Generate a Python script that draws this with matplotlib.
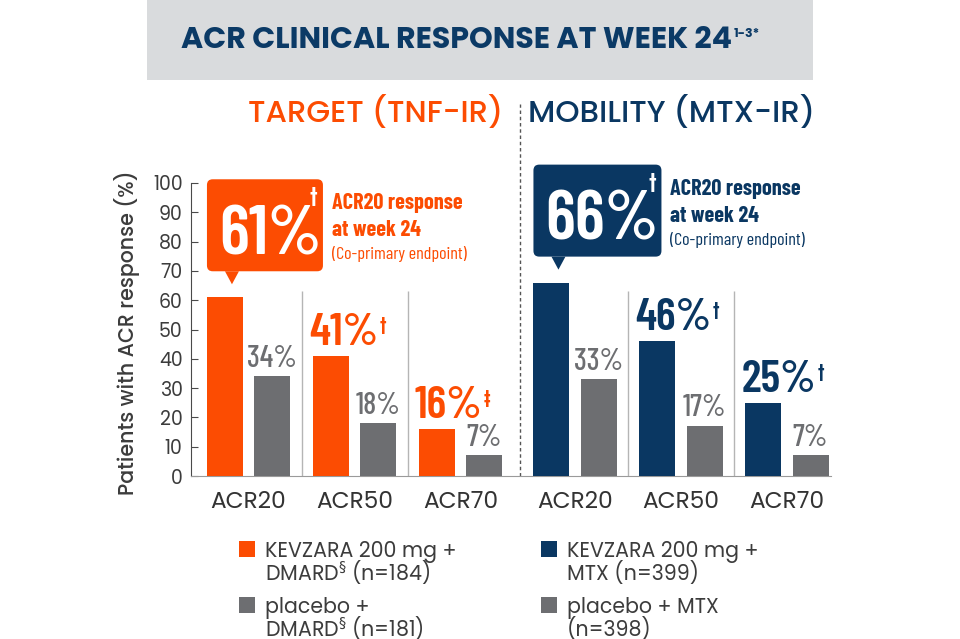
import numpy as np
import matplotlib
matplotlib.use('Agg')
import matplotlib.pyplot as plt
from matplotlib import font_manager as fm
from matplotlib.patches import FancyBboxPatch, Polygon, Rectangle

# data
categories = ['ACR20', 'ACR50', 'ACR70']
tnf_kevzara = [61, 41, 16]
tnf_placebo = [34, 18, 7]
mtx_kevzara = [66, 46, 25]
mtx_placebo = [33, 17, 7]
tnf_marks = ['†', '†', '‡']
mtx_marks = ['†', '†', '†']
yticks = list(range(0, 101, 10))

ORANGE = '#fc4c02'
NAVY = '#0a3762'
GRAY = '#6d6e71'
TXT = '#3c3c3c'

W, H = 960, 639

names = {f.name for f in fm.fontManager.ttflist}
NARROW = 'Barlow Condensed' if 'Barlow Condensed' in names else 'DejaVu Sans'
BASE = 'Poppins' if 'Poppins' in names else 'DejaVu Sans'

plt.rcParams['font.family'] = [BASE, 'DejaVu Sans']
plt.rcParams['mathtext.fontset'] = 'dejavusans'

fig = plt.figure(figsize=(9.6, 6.39), dpi=100)
renderer = fig.canvas.get_renderer()


def fx(px):
    return px / W


def fy(py):
    return 1 - py / H


def fit(t, target, vertical=False):
    # scale a text's font size so that it spans the width seen in the reference
    bb = t.get_window_extent(renderer)
    size = bb.height if vertical else bb.width
    t.set_fontsize(t.get_fontsize() * target / size)
    return t.get_fontsize()


ax = fig.add_axes([fx(191), fy(476), fx(831) - fx(191), fy(183) - fy(476)])

xs_tnf = np.arange(3)
xs_mtx = np.arange(3) + 3.08
off = 0.222
bw = 0.34

ax.bar(xs_tnf - off, tnf_kevzara, bw, color=ORANGE, zorder=3)
ax.bar(xs_tnf + off, tnf_placebo, bw, color=GRAY, zorder=3)
ax.bar(xs_mtx - off, mtx_kevzara, bw, color=NAVY, zorder=3)
ax.bar(xs_mtx + off, mtx_placebo, bw, color=GRAY, zorder=3)

ax.set_xlim(-0.5425, 5.495)
ax.set_ylim(0, 100)
ax.set_yticks(yticks)
ax.set_xticks(np.concatenate([xs_tnf, xs_mtx]), categories * 2)

for s in ['top', 'right']:
    ax.spines[s].set_visible(False)
ax.spines['left'].set_color('#4a4a4a')
ax.spines['bottom'].set_color('#9a9a9a')
ax.tick_params(axis='y', direction='in', length=5, color='#4a4a4a',
               labelsize=12, labelcolor=TXT, pad=6)
ax.tick_params(axis='x', length=0, labelsize=16, labelcolor='#333333', pad=11)
ylab = ax.set_ylabel('Patients with ACR response (%)', fontsize=13.5, color=TXT,
                     fontweight='medium')
ax.yaxis.set_label_coords(-0.08, 0.49)

fig.canvas.draw()
ax.tick_params(axis='y', labelsize=fit(ax.get_yticklabels()[-1], 30))
ax.tick_params(axis='x', labelsize=fit(ax.get_xticklabels()[0], 76))
fit(ylab, 325, vertical=True)

# thin separators between groups, dashed divider between the two trials
mids = [0.5, 1.5, 3.58, 4.58]
ax.vlines(mids, 0, 63, color='#b5b5b5', lw=1, zorder=1)
xd = 2.56
ax.plot([xd, xd], [0, 127], ls=(0, (2.5, 2)), color='#555555', lw=1, clip_on=False)


def value_labels(xs, active, placebo, marks, color):
    for i in range(1, 3):
        t = ax.annotate(f'{active[i]}%', xy=(xs[i] - off - bw / 2, active[i]),
                        xytext=(-3, 8), textcoords='offset points',
                        ha='left', va='baseline', fontsize=33, fontweight='semibold',
                        family=NARROW, color=color)
        ax.annotate(marks[i], xy=(1, 1), xycoords=t, xytext=(1, -3),
                    textcoords='offset points', ha='left', va='top',
                    fontsize=13, fontweight='bold', family=NARROW, color=color)
    for i in range(3):
        ax.annotate(f'{placebo[i]}%', xy=(xs[i] + off, placebo[i]),
                    xytext=(0, 7), textcoords='offset points',
                    ha='center', va='baseline', fontsize=22, fontweight='medium',
                    family=NARROW, color=GRAY)


value_labels(xs_tnf, tnf_kevzara, tnf_placebo, tnf_marks, ORANGE)
value_labels(xs_mtx, mtx_kevzara, mtx_placebo, mtx_marks, NAVY)


def callout(x, value, mark, color, box_w):
    # box above the first bar, anchored on the bar's top-left corner
    px, py = ax.transData.transform((x - off - bw / 2, value))
    bottom = py + 26
    top = bottom + 92
    box = FancyBboxPatch((px / W, bottom / H), box_w / W, 92 / H,
                         boxstyle='round,pad=0,rounding_size=0.006',
                         mutation_aspect=W / H, fc=color, ec='none',
                         transform=fig.transFigure)
    fig.add_artist(box)
    tip = Polygon([((px + 18) / W, bottom / H), ((px + 32) / W, bottom / H),
                   ((px + 25) / W, (bottom - 13) / H)], closed=True,
                  fc=color, ec='none', transform=fig.transFigure)
    fig.add_artist(tip)
    fig.text((px + 12) / W, (top - 75) / H, f'{value}%', color='white',
             fontsize=50, fontweight='semibold', family=NARROW, va='baseline')
    fig.text((px + box_w - 13) / W, (top - 8) / H, mark, color='white',
             fontsize=15, fontweight='bold', family=NARROW, va='top')
    tx = (px + box_w + 9) / W
    fig.text(tx, (top - 30) / H, 'ACR20 response', color=color, fontsize=16,
             fontweight='bold', family=NARROW, va='baseline')
    fig.text(tx, (top - 57) / H, 'at week 24', color=color, fontsize=16,
             fontweight='bold', family=NARROW, va='baseline')
    fig.text(tx, (top - 80) / H, '(Co-primary endpoint)', color=color,
             fontsize=13, family=NARROW, va='baseline')


callout(xs_tnf[0], tnf_kevzara[0], tnf_marks[0], ORANGE, 116)
callout(xs_mtx[0], mtx_kevzara[0], mtx_marks[0], NAVY, 128)

# title banner
fig.add_artist(Rectangle((fx(147), fy(80)), (813 - 147) / W, 80 / H,
                         fc='#d9dbdd', ec='none', transform=fig.transFigure))
title = fig.text(fx(181), fy(41), 'ACR CLINICAL RESPONSE AT WEEK 24', color='#0b3a66',
                 fontsize=19, fontweight='bold', va='center')
fit(title, 552)
tb = title.get_window_extent(renderer)
fig.text((tb.x1 + 2) / W, fy(28), '1-3*', color='#0b3a66', fontsize=9,
         fontweight='bold', ha='left', va='top')

# trial headings
h1 = fig.text(fx(503), fy(113), 'TARGET (TNF-IR)', color=ORANGE, fontsize=20,
              fontweight='medium', ha='right', va='center')
h2 = fig.text(fx(528), fy(113), 'MOBILITY (MTX-IR)', color=NAVY, fontsize=20,
              fontweight='medium', ha='left', va='center')
fit(h1, 256)
fit(h2, 287)

# legend
legend_rows = [
    (239, 557, ORANGE, ['KEVZARA 200 mg +', r'DMARD$^{\S}$ (n=184)']),
    (239, 613, GRAY, ['placebo +', r'DMARD$^{\S}$ (n=181)']),
    (541, 557, NAVY, ['KEVZARA 200 mg +', 'MTX (n=399)']),
    (541, 613, GRAY, ['placebo + MTX', '(n=398)']),
]
probe = fig.text(0, 0, 'KEVZARA 200 mg +', fontsize=12.5)
leg_size = fit(probe, 192)
probe.remove()
for lx, base, col, lines in legend_rows:
    fig.add_artist(Rectangle((fx(lx), fy(base)), 16 / W, 16 / H, fc=col,
                             ec='none', transform=fig.transFigure))
    for k, line in enumerate(lines):
        fig.text(fx(lx + 26), fy(base + 22.5 * k), line, color=TXT,
                 fontsize=leg_size, va='baseline')

fig.savefig('out.png', dpi=100, facecolor='white')
